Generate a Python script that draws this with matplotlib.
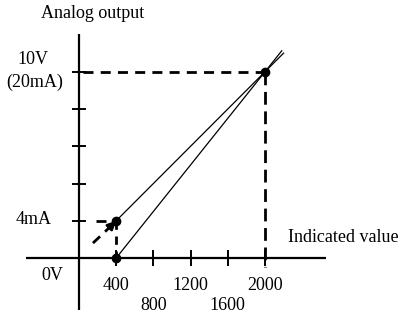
import matplotlib
matplotlib.use("Agg")
import matplotlib.pyplot as plt

# Data
x_ticks = [400, 800, 1200, 1600, 2000]
x_tick_labels = ["400", "800", "1200", "1600", "2000"]
y_ticks = [4, 8, 12, 16, 20]
voltage_x = [400, 2000, 2180]
voltage_y = [0, 20, 22.25]
current_x = [400, 2000, 2200]
current_y = [4, 20, 22.0]
key_points_x = [400, 400, 2000]
key_points_y = [0, 4, 20]

plt.rcParams['font.family'] = ['Liberation Serif', 'DejaVu Serif']

W, H = 402, 315
fig = plt.figure(figsize=(W / 100, H / 100), dpi=100)
ax = fig.add_axes([0, 0, 1, 1])
ax.set_axis_off()

# pixel -> data mapping
x0px, sx = 79, 37.2 / 400
y0px, sy = 258, 37.25 / 4
ax.set_xlim((0 - x0px) / sx, (W - x0px) / sx)
ax.set_ylim((y0px - H) / sy, (y0px - 0) / sy)

fs = 13
# Axes
ax.plot([(26 - x0px) / sx, (326 - x0px) / sx], [0, 0], color='black', lw=1.6, solid_capstyle='butt')
ax.plot([0, 0], [(y0px - 310) / sy, (y0px - 34) / sy], color='black', lw=1.6, solid_capstyle='butt')

# Ticks
tx = 8 / sy
for xt in x_ticks:
    ax.plot([xt, xt], [-tx, tx], color='black', lw=1.4, solid_capstyle='butt')
ty = 7 / sx
for yt in y_ticks:
    ax.plot([-ty, ty], [yt, yt], color='black', lw=1.4, solid_capstyle='butt')

# Characteristic lines
ax.plot(voltage_x, voltage_y, color='black', lw=0.9)
ax.plot(current_x, current_y, color='black', lw=0.9)

# Dashed guide lines
ax.plot([4 / sx, 2000], [20, 20], color='black', lw=2, linestyle=(0, (3.6, 2.6)))
ax.plot([2000, 2000], [20, -9 / sy], color='black', lw=2, linestyle=(0, (4.6, 2.4)))
ax.plot([17 / sx, 400], [4, 4], color='black', lw=2, linestyle=(0, (3.6, 2.4)))
ax.plot([400, 400], [4, 0], color='black', lw=2, linestyle=(0, (3.0, 2.4)))

# Dashed diagonal arrow
ax.plot([150, 330], [1.6, 3.3], color='black', lw=2, linestyle=(0, (3.5, 2.5)))
ax.annotate('', xy=(400, 4), xytext=(320, 3.2),
            arrowprops=dict(arrowstyle='-|>', color='black', lw=2, mutation_scale=12,
                            shrinkA=0, shrinkB=0))

# Points
ax.plot(key_points_x, key_points_y, 'o', color='black', markersize=6)

# Labels
ax.text((93 - x0px) / sx, (y0px - 13) / sy, "Analog output", fontsize=fs, ha='center', va='center')
ax.text((343 - x0px) / sx, (y0px - 238) / sy, "Indicated value", fontsize=fs, ha='center', va='center')
ax.text((33 - x0px) / sx, (y0px - 60) / sy, "10V", fontsize=fs, ha='center', va='center')
ax.text((35 - x0px) / sx, (y0px - 82) / sy, "(20mA)", fontsize=fs, ha='center', va='center')
ax.text((34 - x0px) / sx, (y0px - 220) / sy, "4mA", fontsize=fs, ha='center', va='center')
ax.text((52 - x0px) / sx, (y0px - 276) / sy, "0V", fontsize=fs, ha='center', va='center')

label_y = [285, 306, 285, 306, 285]
for xt, lab, py in zip(x_ticks, x_tick_labels, label_y):
    ax.text(xt, (y0px - py) / sy, lab, fontsize=fs, ha='center', va='center')

fig.savefig("out.png", dpi=100)
